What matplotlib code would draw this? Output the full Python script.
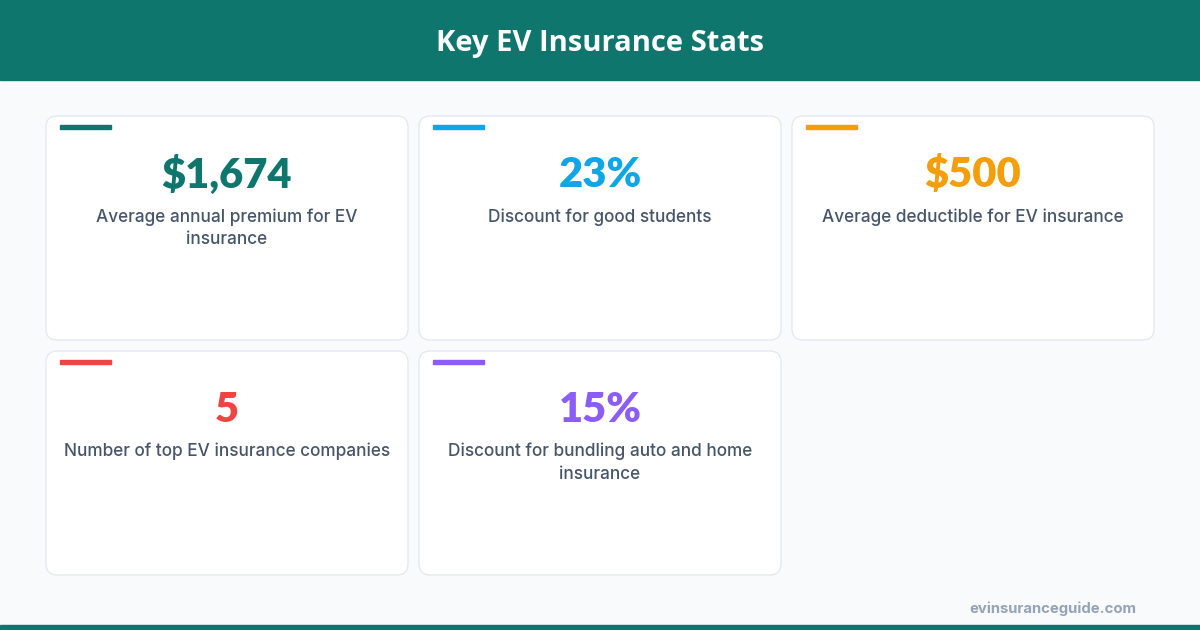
import matplotlib
matplotlib.use("Agg")
import matplotlib.pyplot as plt
from matplotlib.patches import FancyBboxPatch, Rectangle

# stat cards
values = ['$1,674', '23%', '$500', '5', '15%']
labels = [
    'Average annual premium for EV\ninsurance',
    'Discount for good students',
    'Average deductible for EV insurance',
    'Number of top EV insurance companies',
    'Discount for bundling auto and home\ninsurance',
]
accents = ['#0f766e', '#0ea5e9', '#f59e0b', '#ef4444', '#8b5cf6']

title = 'Key EV Insurance Stats'
source = 'evinsuranceguide.com'

W, H = 1200, 630
fig = plt.figure(figsize=(12, 6.3), dpi=100)
fig.patch.set_facecolor('#f8fafc')
ax = fig.add_axes([0, 0, 1, 1])
ax.set_xlim(0, W)
ax.set_ylim(H, 0)
ax.axis('off')

# header band
ax.add_patch(Rectangle((0, 0), W, 80, color='#0f766e', zorder=1))
ax.text(W / 2, 43, title, ha='center', va='center', color='white',
        fontsize=21, fontweight='bold', family=['Open Sans', 'DejaVu Sans'])
# bottom line
ax.add_patch(Rectangle((0, 625), W, 5, color='#0f766e', zorder=1))

x0, y0 = 46, 116
cw, ch, gap = 362, 224, 11
ncols = 3
for i, (val, lab, col) in enumerate(zip(values, labels, accents)):
    r, c = divmod(i, ncols)
    x = x0 + c * (cw + gap)
    y = y0 + r * (ch + gap)
    ax.add_patch(FancyBboxPatch((x, y), cw, ch,
                                boxstyle='round,pad=0,rounding_size=11',
                                facecolor='white', edgecolor='#e5e9ef',
                                linewidth=1, zorder=2))
    ax.add_patch(Rectangle((x + 14, y + 9), 51, 4, color=col, zorder=3))
    ax.text(x + cw / 2, y + 59, val, ha='center', va='center', color=col,
            fontsize=30, fontweight='heavy', family=['Lato', 'DejaVu Sans'],
            zorder=4)
    ax.text(x + cw / 2, y + 92, lab, ha='center', va='top', color='#475569',
            fontsize=12.4, fontweight='medium', linespacing=1.42,
            family=['Inter', 'DejaVu Sans'], zorder=4)

ax.text(1136, 609, source, ha='right', va='center', color='#94a3b8',
        fontsize=10.7, fontweight='bold', family=['Inter', 'DejaVu Sans'])

fig.savefig('out.png', dpi=100, facecolor=fig.get_facecolor())
